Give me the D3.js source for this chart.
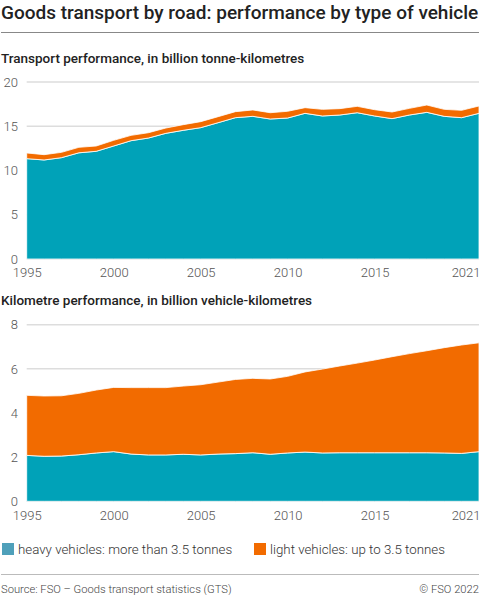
<!DOCTYPE html>
<html>
<head>
<meta charset="utf-8">
<script src="https://cdn.jsdelivr.net/npm/d3@7"></script>
<style>
  body { margin: 0; background: #fff; }
  svg { display: block; font-family: Roboto, "Noto Sans", sans-serif; }
</style>
</head>
<body>
<div id="chart"></div>
<script>
// years shared by both panels
const years = d3.range(1995, 2022);

// transport performance, billion tonne-km
const tkmHeavy = [11.34, 11.19, 11.45, 12.0, 12.17, 12.77, 13.37, 13.67, 14.2, 14.54, 14.84, 15.4, 15.97, 16.12,
  15.82, 15.93, 16.46, 16.16, 16.27, 16.53, 16.16, 15.86, 16.27, 16.57, 16.12, 15.97, 16.46];
const tkmLight = [0.64, 0.6, 0.6, 0.62, 0.6, 0.64, 0.6, 0.6, 0.6, 0.64, 0.68, 0.68, 0.68, 0.72,
  0.71, 0.76, 0.64, 0.75, 0.72, 0.72, 0.71, 0.75, 0.75, 0.83, 0.79, 0.83, 0.83];

// kilometre performance, billion vehicle-km
const vkmHeavy = [2.08, 2.04, 2.05, 2.11, 2.19, 2.25, 2.14, 2.1, 2.1, 2.13, 2.1, 2.14, 2.16, 2.2,
  2.13, 2.19, 2.23, 2.19, 2.2, 2.2, 2.2, 2.2, 2.2, 2.2, 2.19, 2.17, 2.25];
const vkmLight = [2.72, 2.73, 2.73, 2.78, 2.85, 2.91, 3.01, 3.05, 3.05, 3.09, 3.18, 3.26, 3.36, 3.37,
  3.41, 3.47, 3.63, 3.8, 3.93, 4.06, 4.2, 4.35, 4.49, 4.62, 4.77, 4.91, 4.93];

const xTicks = [1995, 2000, 2005, 2010, 2015, 2021];
const tkmTicks = [0, 5, 10, 15, 20];
const vkmTicks = [0, 2, 4, 6, 8];

const seriesNames = ["heavy vehicles: more than 3.5 tonnes", "light vehicles: up to 3.5 tonnes"];
const colors = ["#00a2b8", "#f26b00"];

const W = 483, H = 595;
const svg = d3.select("#chart").append("svg").attr("width", W).attr("height", H);

// title + rule
svg.append("text").attr("x", 1).attr("y", 19)
  .attr("font-size", 19).attr("font-weight", 500).attr("fill", "#222")
  .text("Goods transport by road: performance by type of vehicle");
svg.append("line").attr("x1", 1).attr("x2", 479).attr("y1", 32.5).attr("y2", 32.5)
  .attr("stroke", "#888").attr("stroke-width", 1);

const x = d3.scaleLinear().domain([1995, 2021]).range([26.7, 479]);

function drawPanel(title, titleY, heavy, light, ticks, yTop, yBottom) {
  svg.append("text").attr("x", 1).attr("y", titleY)
    .attr("font-size", 13.5).attr("font-weight", 500).attr("fill", "#222")
    .text(title);

  const y = d3.scaleLinear().domain([0, ticks[ticks.length - 1]]).range([yBottom, yTop]);

  // grid
  svg.append("g").selectAll("line").data(ticks).join("line")
    .attr("x1", x.range()[0]).attr("x2", x.range()[1])
    .attr("y1", d => y(d)).attr("y2", d => y(d))
    .attr("stroke", "#ddd").attr("stroke-width", 1.5);

  const rows = years.map((yr, i) => ({ year: yr, heavy: heavy[i], light: light[i] }));
  const stack = d3.stack().keys(["heavy", "light"])(rows);
  const area = d3.area()
    .x(d => x(d.data.year))
    .y0(d => y(d[0]))
    .y1(d => y(d[1]));

  svg.append("g").selectAll("path").data(stack).join("path")
    .attr("d", area)
    .attr("fill", (d, i) => colors[i])
    .attr("stroke", "#fff").attr("stroke-width", 0.8).attr("stroke-linejoin", "round");

  // y axis labels
  const yAxis = svg.append("g").attr("transform", "translate(18,0)")
    .call(d3.axisLeft(y).tickValues(ticks).tickSize(0).tickPadding(0));
  yAxis.select(".domain").remove();
  yAxis.selectAll("text").attr("font-size", 13).attr("font-weight", 300)
    .attr("fill", "#555").attr("font-family", "Roboto, sans-serif");

  // x axis labels
  const xAxis = svg.append("g").attr("transform", `translate(0,${yBottom + 9})`)
    .call(d3.axisBottom(x).tickValues(xTicks).tickFormat(d3.format("d")).tickSize(0).tickPadding(0));
  xAxis.select(".domain").remove();
  xAxis.selectAll("text").attr("font-size", 13).attr("font-weight", 300)
    .attr("fill", "#555").attr("font-family", "Roboto, sans-serif")
    .attr("text-anchor", d => d === 2021 ? "end" : "middle")
    .attr("dx", d => d === 2021 ? 1 : 0);
}

drawPanel("Transport performance, in billion tonne-kilometres", 63, tkmHeavy, tkmLight, tkmTicks, 82, 259);
drawPanel("Kilometre performance, in billion vehicle-kilometres", 305, vkmHeavy, vkmLight, vkmTicks, 324.7, 501.3);

// legend
const legend = svg.append("g").attr("transform", "translate(2,543)");
const legendX = [0, 252];
seriesNames.forEach((name, i) => {
  const g = legend.append("g").attr("transform", `translate(${legendX[i]},0)`);
  g.append("rect").attr("width", 12).attr("height", 12)
    .attr("fill", i === 0 ? "#4fa0ba" : colors[1]);
  g.append("text").attr("x", 16).attr("y", 10.5)
    .attr("font-size", 13.3).attr("font-weight", 300).attr("fill", "#333")
    .text(name);
});

// footer
svg.append("line").attr("x1", 1).attr("x2", 479).attr("y1", 574.5).attr("y2", 574.5)
  .attr("stroke", "#bbb").attr("stroke-width", 1);
svg.append("text").attr("x", 1).attr("y", 593)
  .attr("font-size", 11.2).attr("font-weight", 300).attr("fill", "#444")
  .text("Source: FSO \u2013 Goods transport statistics (GTS)");
svg.append("text").attr("x", 479).attr("y", 593).attr("text-anchor", "end")
  .attr("font-size", 11.2).attr("font-weight", 300).attr("fill", "#444")
  .text("\u00a9 FSO 2022");
</script>
</body>
</html>
